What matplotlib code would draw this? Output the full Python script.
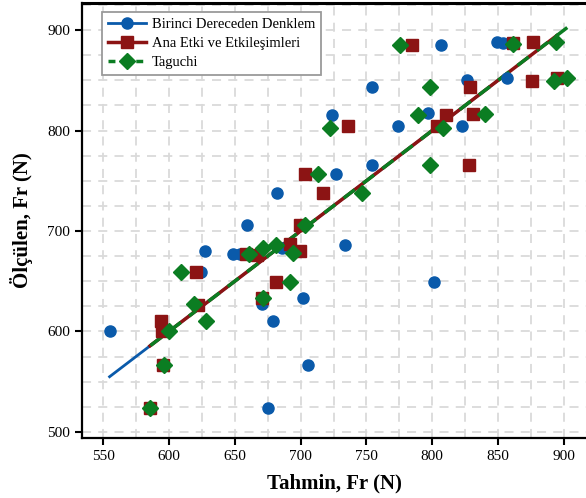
import numpy as np
import matplotlib.pyplot as plt
from matplotlib.ticker import MultipleLocator

plt.rcParams['font.family'] = ['Liberation Serif', 'DejaVu Serif']

# Birinci Dereceden Denklem (tahmin, ölçülen)
birinci_x = [555, 627.5, 649, 654, 624.4, 671, 679, 702, 706, 675, 685.7, 659, 681.9,
             723.6, 727, 754, 754, 733.8, 774.2, 796.5, 822.3, 826, 857, 801.6, 806.4, 849, 853.5]
birinci_y = [600, 680, 677, 677, 659, 627, 610, 633, 567, 524, 683, 706, 738,
             815, 757, 843.6, 766, 686, 804, 817, 804, 850, 852, 649, 885, 888, 887]

# Ana Etki ve Etkileşimleri
ana_x = [585.7, 594, 595, 595.3, 620.6, 622.4, 670.5, 681.6, 658.5, 666.7, 692, 699.6, 699.6,
         703.4, 716.8, 736, 803.3, 810.4, 831, 828, 829, 875.5, 894.5, 784.4, 861, 876.7]
ana_y = [524, 610, 600, 567, 659, 626, 633, 649, 677, 676, 687, 680.5, 706,
         757, 738, 804, 804, 815, 816, 766, 843.6, 849, 852.5, 885, 887, 888]

# Taguchi
tag_x = [586, 600, 596, 609.5, 619.3, 628.3, 661, 671.7, 671.7, 681.4, 692, 694, 703.4,
         713.5, 722.4, 747, 789, 798.3, 798, 808.4, 840, 892.5, 902.6, 775.5, 861, 893.7]
tag_y = [524, 600, 567, 659, 627, 610, 677, 683, 633, 686, 649, 678, 706,
         757, 803, 738, 815, 766, 843.6, 803, 816, 849, 852.5, 885, 886, 888]

c_blue = '#0a5aaa'
c_red = '#8c1414'
c_green = '#0b7d22'

fig = plt.figure(figsize=(5.86, 4.98), dpi=100)
ax = fig.add_axes([82 / 586, 60 / 498, 504 / 586, 435 / 498])

# ideal (y = x) lines over each model's prediction range
bx = np.array([min(birinci_x), max(birinci_x)])
ax_ = np.array([min(ana_x), max(ana_x)])
tx = np.array([min(tag_x), max(tag_x)])
ax.plot(bx, bx, color=c_blue, lw=2, zorder=3)
ax.plot(ax_, ax_, color=c_red, lw=2.5, zorder=3)
ax.plot(tx, tx, color=c_green, lw=2.5, ls=(0, (4, 3)), zorder=4)

ax.plot(birinci_x, birinci_y, 'o', color=c_blue, ms=8, zorder=5)
ax.plot(ana_x, ana_y, 's', color=c_red, ms=8, zorder=6)
ax.plot(tag_x, tag_y, 'D', color=c_green, ms=8, zorder=7)

# legend handles
ax.plot([], [], '-o', color=c_blue, lw=2, ms=8, label='Birinci Dereceden Denklem')
ax.plot([], [], '-s', color=c_red, lw=2.5, ms=8, label='Ana Etki ve Etkileşimleri')
ax.plot([], [], color=c_green, lw=2.5, ls=(0, (2, 2)), marker='D', ms=8, label='Taguchi')
handles, labels = ax.get_legend_handles_labels()
leg = ax.legend(handles[-3:], labels[-3:], loc='upper left', bbox_to_anchor=(0.04, 0.98),
                borderaxespad=0, fancybox=False, framealpha=1, edgecolor='#9a9a9a',
                fontsize=10.5, handlelength=2.6, labelspacing=0.4, borderpad=0.4,
                handletextpad=0.4)
leg.get_frame().set_linewidth(1.3)

ax.set_xlim(534.05, 916.7)
ax.set_ylim(494, 926.9)
ax.xaxis.set_major_locator(MultipleLocator(50))
ax.yaxis.set_major_locator(MultipleLocator(100))
ax.xaxis.set_minor_locator(MultipleLocator(25))
ax.yaxis.set_minor_locator(MultipleLocator(25))
ax.grid(which='both', color='#dadada', ls=(0, (5, 4)), lw=1.3)
ax.set_axisbelow(True)
ax.tick_params(which='major', direction='out', length=5, width=1.5, labelsize=11)
ax.tick_params(which='minor', length=0)

ax.spines['right'].set_visible(False)
ax.spines['top'].set_linewidth(2.2)
ax.spines['left'].set_linewidth(1.6)
ax.spines['bottom'].set_linewidth(1.6)

ax.set_xlabel('Tahmin, Fr (N)', fontsize=15, fontweight='bold', labelpad=8)
ax.set_ylabel('Ölçülen, Fr (N)', fontsize=15, fontweight='bold', labelpad=10)

fig.savefig('out.png', dpi=100)
